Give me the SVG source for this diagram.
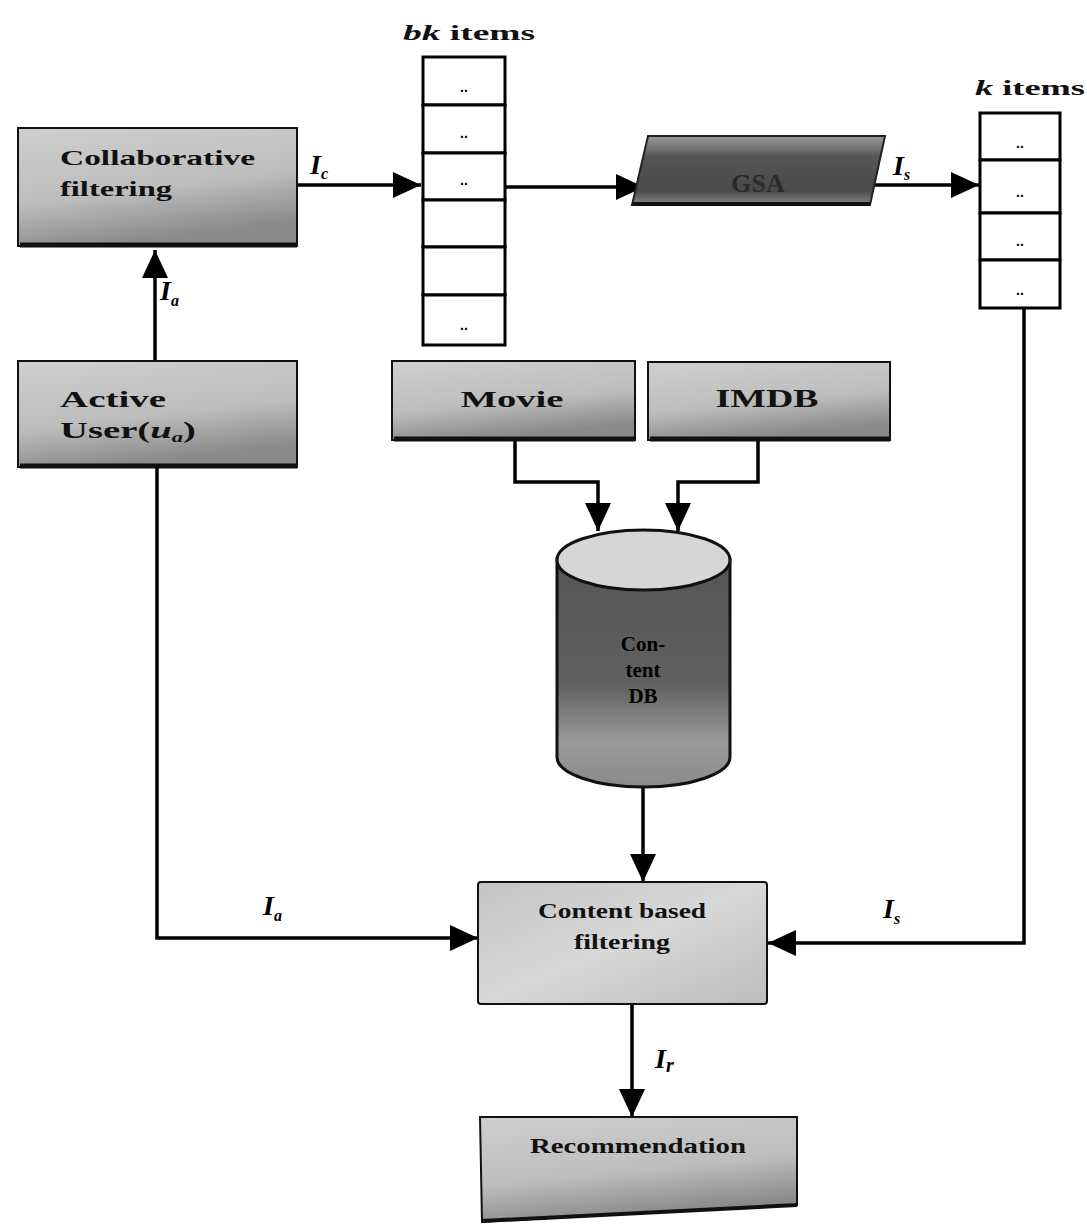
<svg xmlns="http://www.w3.org/2000/svg" width="1087" height="1225" viewBox="0 0 1087 1225">
<style>
.lbl{font-family:"Liberation Serif",serif;font-weight:bold;fill:#111}
.math{font-family:"Liberation Serif",serif;font-weight:bold;font-style:italic;fill:#000}
.conn{stroke:#000;stroke-width:3.5;fill:none}
.cell{fill:#fff;stroke:#000;stroke-width:3}
.dots{font-family:"Liberation Sans",sans-serif;font-weight:bold;font-size:14px;fill:#000;text-anchor:middle}
.box{stroke:#111;stroke-width:2}
</style>
<defs>
<linearGradient id="gBox" x1="0" y1="0" x2="0.3" y2="1">
<stop offset="0" stop-color="#cfcfcf"/><stop offset="0.6" stop-color="#bdbdbd"/><stop offset="1" stop-color="#8a8a8a"/>
</linearGradient>
<linearGradient id="gLight" x1="0" y1="0" x2="1" y2="1">
<stop offset="0" stop-color="#c4c4c4"/><stop offset="0.5" stop-color="#d8d8d8"/><stop offset="1" stop-color="#bcbcbc"/>
</linearGradient>
<linearGradient id="gGsa" x1="0" y1="0" x2="0" y2="1">
<stop offset="0" stop-color="#9a9a9a"/><stop offset="0.3" stop-color="#555"/><stop offset="0.8" stop-color="#4a4a4a"/><stop offset="1" stop-color="#8a8a8a"/>
</linearGradient>
<linearGradient id="gCyl" x1="0" y1="0" x2="0" y2="1">
<stop offset="0" stop-color="#555"/><stop offset="0.55" stop-color="#606060"/><stop offset="0.8" stop-color="#9a9a9a"/><stop offset="1" stop-color="#8a8a8a"/>
</linearGradient>
<marker id="arr" markerUnits="userSpaceOnUse" markerWidth="30" markerHeight="26" refX="28" refY="13" orient="auto">
<path d="M0,0 L28,13 L0,26 z" fill="#000"/>
</marker>
</defs>

<g id="connectors">
<path class="conn" d="M155,360 L155,250" marker-end="url(#arr)"/>
<path class="conn" d="M298,185 L421,185" marker-end="url(#arr)"/>
<path class="conn" d="M505,187 L644,187" marker-end="url(#arr)"/>
<path class="conn" d="M872,185 L979,185" marker-end="url(#arr)"/>
<path class="conn" d="M1024,308 L1024,943 L768,943" marker-end="url(#arr)"/>
<path class="conn" d="M157,468 L157,938 L478,938" marker-end="url(#arr)"/>
<path class="conn" d="M515,440 L515,482 L598,482 L598,531" marker-end="url(#arr)"/>
<path class="conn" d="M758,440 L758,482 L678,482 L678,531" marker-end="url(#arr)"/>
<path class="conn" d="M643,787 L643,882" marker-end="url(#arr)"/>
<path class="conn" d="M632,1004 L632,1117" marker-end="url(#arr)"/>
<text class="math" x="310" y="174" font-size="28">I<tspan font-size="16" dy="5">c</tspan></text>
<text class="math" x="160" y="300" font-size="28">I<tspan font-size="16" dy="6">a</tspan></text>
<text class="math" x="893" y="175" font-size="28">I<tspan font-size="16" dy="5">s</tspan></text>
<text class="math" x="263" y="915" font-size="28">I<tspan font-size="16" dy="6">a</tspan></text>
<text class="math" x="883" y="918" font-size="28">I<tspan font-size="16" dy="6">s</tspan></text>
<text class="math" x="655" y="1068" font-size="28">I<tspan font-size="20" dy="4">r</tspan></text>
</g>

<g id="collaborative-filtering">
<rect class="box" x="18" y="128" width="279" height="118" fill="url(#gBox)"/>
<line x1="20" y1="245" x2="297" y2="245" stroke="#111" stroke-width="5"/>
<text class="lbl" x="60" y="165" font-size="22" textLength="195" lengthAdjust="spacingAndGlyphs">Collaborative</text>
<text class="lbl" x="60" y="196" font-size="22" textLength="112" lengthAdjust="spacingAndGlyphs">filtering</text>
</g>

<g id="bk-items">
<text x="403" y="40" font-size="22" class="lbl" textLength="132" lengthAdjust="spacingAndGlyphs"><tspan font-style="italic">bk</tspan> items</text>
<rect class="cell" x="423" y="57" width="82" height="48"/>
<rect class="cell" x="423" y="105" width="82" height="48"/>
<rect class="cell" x="423" y="153" width="82" height="47"/>
<rect class="cell" x="423" y="200" width="82" height="47"/>
<rect class="cell" x="423" y="247" width="82" height="48"/>
<rect class="cell" x="423" y="295" width="82" height="50"/>
<text class="dots" x="464" y="92">..</text>
<text class="dots" x="464" y="138">..</text>
<text class="dots" x="464" y="185">..</text>
<text class="dots" x="464" y="330">..</text>
</g>

<g id="gsa">
<polygon points="648,136 885,136 870,205 632,205" fill="url(#gGsa)" stroke="#222" stroke-width="2"/>
<line x1="633" y1="204" x2="870" y2="204" stroke="#111" stroke-width="4"/>
<text class="lbl" x="758" y="192" font-size="26" text-anchor="middle" style="fill:#2a2a2a">GSA</text>
</g>

<g id="k-items">
<text x="975" y="95" font-size="22" class="lbl" textLength="110" lengthAdjust="spacingAndGlyphs"><tspan font-style="italic">k</tspan> items</text>
<rect class="cell" x="980" y="113" width="80" height="47"/>
<rect class="cell" x="980" y="160" width="80" height="53"/>
<rect class="cell" x="980" y="213" width="80" height="47"/>
<rect class="cell" x="980" y="260" width="80" height="48"/>
<text class="dots" x="1020" y="148">..</text>
<text class="dots" x="1020" y="197">..</text>
<text class="dots" x="1020" y="246">..</text>
<text class="dots" x="1020" y="295">..</text>
</g>

<g id="active-user">
<rect class="box" x="18" y="361" width="279" height="106" fill="url(#gBox)"/>
<line x1="20" y1="466" x2="297" y2="466" stroke="#111" stroke-width="5"/>
<text class="lbl" x="60" y="407" font-size="24" textLength="106" lengthAdjust="spacingAndGlyphs">Active</text>
<text class="lbl" x="60" y="438" font-size="24" textLength="136" lengthAdjust="spacingAndGlyphs">User(<tspan font-style="italic">u<tspan font-size="14" dy="4">a</tspan></tspan><tspan dy="-4">)</tspan></text>
</g>

<g id="movie">
<rect class="box" x="392" y="361" width="243" height="79" fill="url(#gBox)"/>
<line x1="394" y1="439" x2="635" y2="439" stroke="#111" stroke-width="5"/>
<text class="lbl" x="512" y="407" font-size="24" text-anchor="middle" textLength="103" lengthAdjust="spacingAndGlyphs">Movie</text>
</g>

<g id="imdb">
<rect class="box" x="648" y="362" width="242" height="78" fill="url(#gBox)"/>
<line x1="650" y1="439" x2="890" y2="439" stroke="#111" stroke-width="5"/>
<text class="lbl" x="767" y="407" font-size="26" text-anchor="middle" textLength="103" lengthAdjust="spacingAndGlyphs">IMDB</text>
</g>

<g id="content-db">
<path d="M557,560 L557,757 A86.5,30 0 0 0 730,757 L730,560 z" fill="url(#gCyl)" stroke="#111" stroke-width="3"/>
<ellipse cx="643.5" cy="560" rx="86.5" ry="30" fill="#d6d6d6" stroke="#111" stroke-width="3"/>
<text class="lbl" x="643" y="651" font-size="21" text-anchor="middle" style="fill:#000">Con-</text>
<text class="lbl" x="643" y="677" font-size="21" text-anchor="middle" style="fill:#000">tent</text>
<text class="lbl" x="643" y="703" font-size="21" text-anchor="middle" style="fill:#000">DB</text>
</g>

<g id="content-based-filtering">
<rect class="box" x="478" y="882" width="289" height="122" fill="url(#gLight)" rx="3"/>
<text class="lbl" x="622" y="918" font-size="20" text-anchor="middle" textLength="168" lengthAdjust="spacingAndGlyphs">Content based</text>
<text class="lbl" x="622" y="949" font-size="20" text-anchor="middle" textLength="96" lengthAdjust="spacingAndGlyphs">filtering</text>
</g>

<g id="recommendation">
<path d="M480,1117 L797,1117 L797,1205 Q650,1212 482,1222 z" fill="url(#gBox)" stroke="#111" stroke-width="2"/>
<path d="M482,1221 Q650,1212 797,1205" fill="none" stroke="#111" stroke-width="4"/>
<text class="lbl" x="638" y="1153" font-size="20" text-anchor="middle" textLength="216" lengthAdjust="spacingAndGlyphs">Recommendation</text>
</g>
</svg>
